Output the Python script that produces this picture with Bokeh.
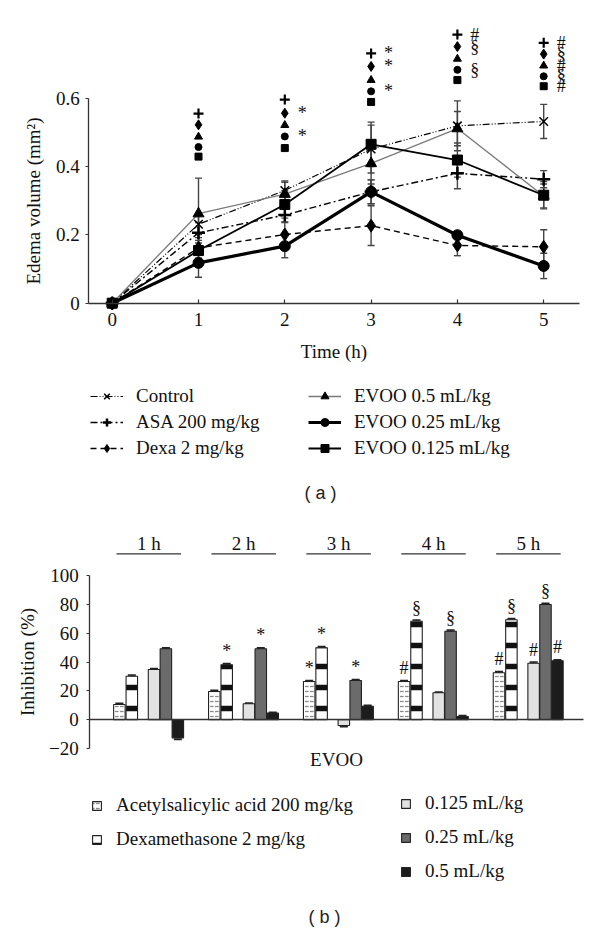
from bokeh.plotting import figure
from bokeh.models import (Range1d, FixedTicker, Legend, LegendItem, Label,
                          Whisker, TeeHead, ColumnDataSource)
from bokeh.layouts import column
from bokeh.embed import file_html
from bokeh.resources import INLINE
from bokeh.core.properties import value

SERIF = "Liberation Serif"
SANS = "Liberation Sans"

# ---------------- data: panel (a) edema volume (mm^2) ----------------
time_h = [0, 1, 2, 3, 4, 5]
control = [0, 0.231, 0.330, 0.451, 0.519, 0.532]
control_err = [0, 0.030, 0.028, 0.070, 0.073, 0.050]
asa = [0, 0.206, 0.258, 0.326, 0.380, 0.363]
asa_err = [0, 0.030, 0.020, 0.035, 0.045, 0.025]
dexa = [0, 0.162, 0.201, 0.227, 0.169, 0.165]
dexa_err = [0, 0.030, 0.035, 0.058, 0.030, 0.050]
evoo_05 = [0, 0.262, 0.319, 0.409, 0.511, 0.314]
evoo_05_err = [0, 0.104, 0.035, 0.060, 0.050, 0.035]
evoo_025 = [0, 0.118, 0.167, 0.326, 0.199, 0.109]
evoo_025_err = [0, 0.042, 0.034, 0.035, 0.010, 0.037]
evoo_0125 = [0, 0.154, 0.289, 0.465, 0.419, 0.316]
evoo_0125_err = [0, 0.030, 0.040, 0.065, 0.050, 0.040]

# significance symbol columns above the points (a)
sig_times = [1, 2, 3, 4, 5]
sig_y_asa = [0.555, 0.596, 0.731, 0.786, 0.762]
sig_y_dexa = [0.522, 0.556, 0.693, 0.751, 0.729]
sig_y_e05 = [0.487, 0.521, 0.653, 0.715, 0.695]
sig_y_e025 = [0.457, 0.488, 0.620, 0.683, 0.664]
sig_y_e0125 = [0.429, 0.454, 0.589, 0.653, 0.635]
sig_txt_asa = ["", "", "*", "#", "#"]
sig_txt_dexa = ["", "*", "*", "§", "§"]
sig_txt_e05 = ["", "", "", "", "#"]
sig_txt_e025 = ["", "*", "*", "§", "§"]
sig_txt_e0125 = ["", "", "", "", "#"]

# ---------------- data: panel (b) inhibition (%) ----------------
groups = ["1 h", "2 h", "3 h", "4 h", "5 h"]
inh_asa = [10.6, 19.6, 26.5, 26.5, 32.6]
inh_dexa = [30.2, 38.1, 49.9, 68.3, 69.3]
inh_e0125 = [34.9, 11.1, -4.0, 18.7, 39.2]
inh_e025 = [49.2, 49.2, 27.2, 61.4, 79.9]
inh_e05 = [-12.5, 4.6, 9.4, 2.3, 40.9]
inh_err_asa = [0.8, 0.8, 0.8, 0.8, 0.8]
inh_err_dexa = [0.9, 0.9, 0.9, 0.9, 0.9]
inh_err_e0125 = [0.6, 0.6, 0.8, 0.6, 0.8]
inh_err_e025 = [0.8, 0.8, 0.8, 0.8, 0.8]
inh_err_e05 = [1.2, 0.6, 0.6, 0.6, 0.8]
sig_b_asa = ["", "", "*", "#", "#"]
sig_b_dexa = ["", "*", "*", "§", "§"]
sig_b_e0125 = ["", "", "", "", "#"]
sig_b_e025 = ["", "*", "*", "§", "§"]
sig_b_e05 = ["", "", "", "", "#"]

# ---------------- layout helpers (page pixel -> data) ----------------
W, HA, HB, M = 600, 508, 424, 0
A_X0, A_XP = 111.7, 86.3
A_Y0, A_YP = 302.7, 341.7
def a_x(px): return (px - A_X0) / A_XP
def a_y(py): return (A_Y0 - py) / A_YP

B_TOP = M + HA
B_X0, B_XP = 148.3, 94.9
B_Y0, B_YP = 719.3, 1.443
def b_x(px): return (px - B_X0) / B_XP
def b_y(py): return (B_Y0 - py) / B_YP


def style_axes(p):
    for ax in list(p.xaxis) + list(p.yaxis):
        ax.axis_line_color = "#333333"
        ax.axis_line_width = 1.3
        ax.major_tick_line_color = "#333333"
        ax.major_tick_line_width = 1.2
        ax.minor_tick_line_color = None
        ax.major_label_text_font = SERIF
        ax.major_label_text_font_size = "19px"
        ax.major_label_text_color = "#111111"
        ax.axis_label_text_font = SERIF
        ax.axis_label_text_font_size = "19px"
        ax.axis_label_text_font_style = "normal"
        ax.axis_label_text_color = "#111111"


# ======================= panel (a) =======================
pA = figure(width=W, height=HA, output_backend="svg", toolbar_location=None,
            x_range=Range1d(a_x(M), a_x(M + W)),
            y_range=Range1d(a_y(M + HA), a_y(M)),
            min_border=0, min_border_left=0, min_border_right=0,
            min_border_top=0, min_border_bottom=0)
pA.outline_line_color = None
pA.grid.visible = False
style_axes(pA)
pA.xaxis.fixed_location = 0
pA.xaxis.bounds = (a_x(88.3), a_x(579.3))
pA.xaxis.ticker = FixedTicker(ticks=time_h)
pA.xaxis.major_tick_in = 4
pA.xaxis.major_tick_out = 0
pA.xaxis.major_label_standoff = 10
pA.xaxis.axis_label = "Time (h)"
pA.xaxis.axis_label_standoff = 11
pA.yaxis.fixed_location = a_x(88.3)
pA.yaxis.bounds = (0, 0.6)
pA.yaxis.ticker = FixedTicker(ticks=[0, 0.2, 0.4, 0.6])
pA.yaxis.major_label_overrides = {0: "0", 0.2: "0.2", 0.4: "0.4", 0.6: "0.6"}
pA.yaxis.major_tick_in = 0
pA.yaxis.major_tick_out = 3
pA.yaxis.major_label_standoff = 6
pA.yaxis.axis_label = "Edema volume (mm²)"
pA.yaxis.axis_label_standoff = 9

series = [
    ("Control", control, control_err, dict(line_color="black", line_width=1.2, line_dash="7 2 1 2 1 2"), "x", 12, 1.5),
    ("ASA 200 mg/kg", asa, asa_err, dict(line_color="black", line_width=1.4, line_dash="7 3 2 3"), "cross", 13, 2.5),
    ("Dexa 2 mg/kg", dexa, dexa_err, dict(line_color="black", line_width=1.4, line_dash="6 4"), "diamond", 13, 1),
    ("EVOO 0.5 mL/kg", evoo_05, evoo_05_err, dict(line_color="#7a7a7a", line_width=1.3), "triangle", 11, 1),
    ("EVOO 0.25 mL/kg", evoo_025, evoo_025_err, dict(line_color="black", line_width=3.2), "circle", 11, 1),
    ("EVOO 0.125 mL/kg", evoo_0125, evoo_0125_err, dict(line_color="black", line_width=1.8), "square", 10, 1),
]
legend_items = []
for name, vals, errs, lstyle, marker, msize, mlw in series:
    up = [v + e for v, e in zip(vals, errs) if e > 0]
    lo = [v - e for v, e in zip(vals, errs) if e > 0]
    tt = [t for t, e in zip(time_h, errs) if e > 0]
    src = ColumnDataSource(dict(t=tt, upper=up, lower=lo))
    pA.add_layout(Whisker(source=src, base="t", upper="upper", lower="lower",
                          line_color="#444444", line_width=1.4,
                          upper_head=TeeHead(size=7, line_color="#444444", line_width=1.4),
                          lower_head=TeeHead(size=7, line_color="#444444", line_width=1.4)))
    lr = pA.line(time_h, vals, **lstyle)
    sr = pA.scatter(time_h, vals, marker=marker, size=msize, fill_color="black",
                    line_color="black", line_width=mlw)
    legend_items.append(LegendItem(label=name, renderers=[lr, sr]))

# significance marker columns
sig_sets = [
    (sig_y_asa, sig_txt_asa, "cross", 10, 2.2),
    (sig_y_dexa, sig_txt_dexa, "diamond", 10, 1),
    (sig_y_e05, sig_txt_e05, "triangle", 8, 1),
    (sig_y_e025, sig_txt_e025, "circle", 7, 1),
    (sig_y_e0125, sig_txt_e0125, "square", 7, 1),
]
for ys, txts, marker, msize, mlw in sig_sets:
    pA.scatter(sig_times, ys, marker=marker, size=msize, fill_color="black",
               line_color="black", line_width=mlw)
    tx = [t + 0.15 for t, s in zip(sig_times, txts) if s]
    ty = [y for y, s in zip(ys, txts) if s]
    ts = [s for s in txts if s]
    pA.text(x=tx, y=ty, text=ts, text_font=value(SERIF), text_font_size="18px",
            text_baseline="middle", text_align="left", text_color="#111111")

legA1 = Legend(items=legend_items[:3], location=(90, 49))
legA2 = Legend(items=legend_items[3:], location=(308, 49))
for lg in (legA1, legA2):
    lg.glyph_width = 33
    lg.glyph_height = 20
    lg.label_standoff = 13
    lg.spacing = 4
    lg.padding = 0
    lg.margin = 0
    lg.border_line_color = None
    lg.background_fill_alpha = 0
    lg.label_text_font = SERIF
    lg.label_text_font_size = "19px"
    lg.label_text_color = "#111111"
    lg.label_height = 20
    pA.add_layout(lg)

pA.add_layout(Label(x=a_x(320), y=a_y(492), text="( a )", text_font=SANS,
                    text_font_size="18px", text_align="center",
                    text_baseline="middle", text_color="#222222"))

# ======================= panel (b) =======================
pB = figure(width=W, height=HB, output_backend="svg", toolbar_location=None,
            x_range=Range1d(b_x(M), b_x(M + W)),
            y_range=Range1d(b_y(B_TOP + HB), b_y(B_TOP)),
            min_border=0, min_border_left=0, min_border_right=0,
            min_border_top=0, min_border_bottom=0)
pB.outline_line_color = None
pB.grid.visible = False
style_axes(pB)
pB.xaxis.fixed_location = 0
pB.xaxis.bounds = (b_x(89.3), b_x(582.7))
pB.xaxis.ticker = FixedTicker(ticks=[])
pB.xaxis.major_tick_line_color = None
pB.xaxis.axis_label = "EVOO"
pB.xaxis.axis_label_standoff = 29
pB.yaxis.fixed_location = b_x(89.3)
pB.yaxis.bounds = (-20, 100)
pB.yaxis.ticker = FixedTicker(ticks=[-20, 0, 20, 40, 60, 80, 100])
pB.yaxis.major_label_overrides = {-20: "−20"}
pB.yaxis.major_tick_in = 0
pB.yaxis.major_tick_out = 3
pB.yaxis.major_label_standoff = 8
pB.yaxis.axis_label = "Inhibition (%)"
pB.yaxis.axis_label_standoff = 8

gidx = list(range(len(groups)))
bar_w = 0.121
bar_sets = [
    ("Acetylsalicylic acid 200 mg/kg", inh_asa, inh_err_asa, sig_b_asa, -0.310,
     dict(fill_color="white", hatch_pattern="horizontal_dash", hatch_color="#8a8a8a",
          hatch_scale=5, hatch_weight=1.3)),
    ("Dexamethasone 2 mg/kg", inh_dexa, inh_err_dexa, sig_b_dexa, -0.179,
     dict(fill_color="white", hatch_pattern="horizontal_line", hatch_color="#111111",
          hatch_scale=21, hatch_weight=5.5)),
    ("0.125 mL/kg", inh_e0125, inh_err_e0125, sig_b_e0125, 0.055,
     dict(fill_color="#e2e2e2")),
    ("0.25 mL/kg", inh_e025, inh_err_e025, sig_b_e025, 0.180,
     dict(fill_color="#6b6b6b")),
    ("0.5 mL/kg", inh_e05, inh_err_e05, sig_b_e05, 0.306,
     dict(fill_color="#1c1c1c")),
]
bar_items = []
for name, vals, errs, sigs, off, fill in bar_sets:
    xs = [i + off for i in gidx]
    r = pB.vbar(x=xs, top=vals, bottom=0, width=bar_w, line_color="#222222",
                line_width=1.1, **fill)
    bar_items.append(LegendItem(label=name, renderers=[r]))
    up = [v + e if v >= 0 else v for v, e in zip(vals, errs)]
    lo = [v if v >= 0 else v - e for v, e in zip(vals, errs)]
    src = ColumnDataSource(dict(x=xs, upper=up, lower=lo))
    pB.add_layout(Whisker(source=src, base="x", upper="upper", lower="lower",
                          line_color="#222222", line_width=1,
                          upper_head=TeeHead(size=8, line_color="#222222", line_width=1.5),
                          lower_head=TeeHead(size=8, line_color="#222222", line_width=1.5)))
    sx = [x for x, s in zip(xs, sigs) if s]
    sy = [max(v, 0) + e + 1.5 for v, e, s in zip(vals, errs, sigs) if s]
    st = [s for s in sigs if s]
    pB.text(x=sx, y=sy, text=st, text_font=value(SERIF), text_font_size="18px",
            text_baseline="bottom", text_align="center", text_color="#111111")

# group headers with underline
pB.text(x=gidx, y=b_y(543), text=groups, text_font=value(SERIF), text_font_size="19px",
        text_baseline="middle", text_align="center", text_color="#111111")
pB.segment(x0=[i - 0.34 for i in gidx], y0=b_y(553.3), x1=[i + 0.34 for i in gidx],
           y1=b_y(553.3), line_color="#333333", line_width=1.3)

legB1 = Legend(items=bar_items[:2], location=(91, 82))
legB2 = Legend(items=bar_items[2:], location=(400, 50))
for lg in (legB1, legB2):
    lg.glyph_width = 11
    lg.glyph_height = 11
    lg.label_standoff = 14
    lg.spacing = 12
    lg.padding = 0
    lg.margin = 0
    lg.border_line_color = None
    lg.background_fill_alpha = 0
    lg.label_text_font = SERIF
    lg.label_text_font_size = "19px"
    lg.label_text_color = "#111111"
    lg.label_height = 20
    pB.add_layout(lg)

pB.add_layout(Label(x=b_x(324), y=b_y(916), text="( b )", text_font=SANS,
                    text_font_size="18px", text_align="center",
                    text_baseline="middle", text_color="#222222"))

layout = column(pA, pB, spacing=0)
open("out.html", "w").write(file_html(layout, INLINE))
